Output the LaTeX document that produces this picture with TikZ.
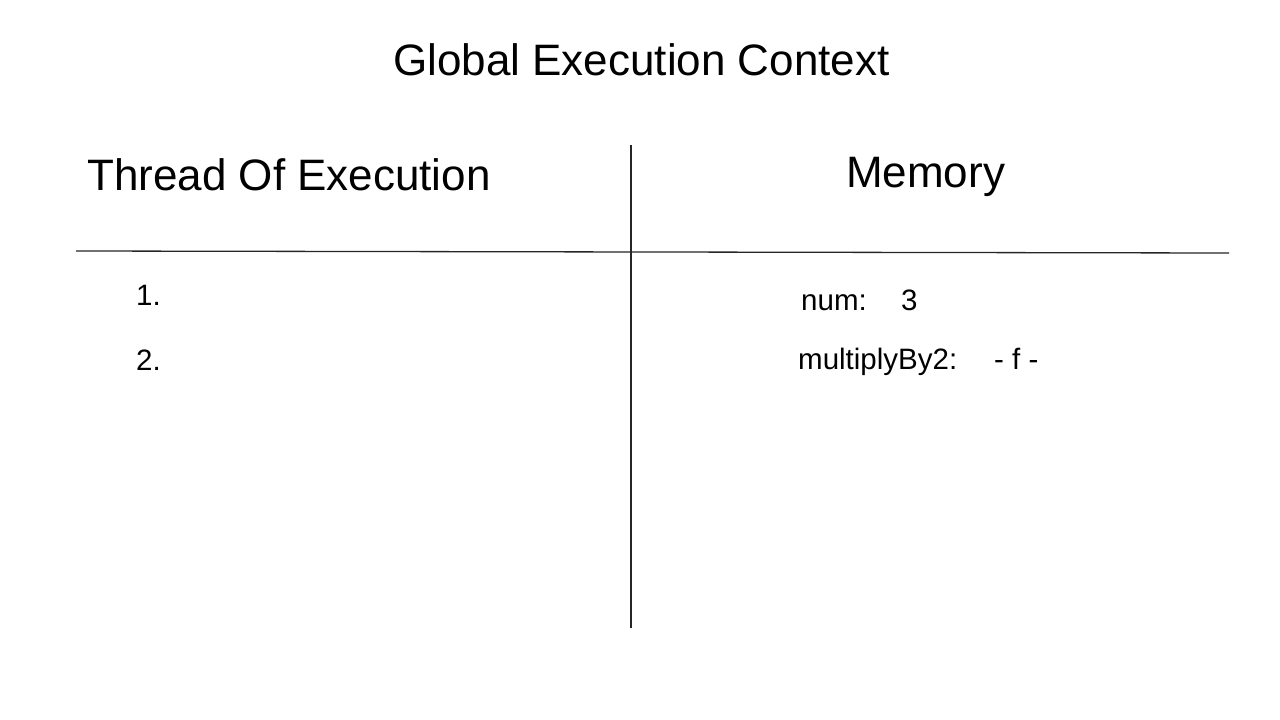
\documentclass[tikz,border=0pt]{standalone}
\usepackage{fontspec}
\setmainfont{Liberation Sans}
\begin{document}
\begin{tikzpicture}[x=1pt,y=-1pt,
  big/.style={anchor=base west,inner sep=0pt,font=\fontsize{44}{50}\selectfont},
  small/.style={anchor=base west,inner sep=0pt,font=\fontsize{29.5}{34}\selectfont},
  rule/.style={line width=1.3pt,black!85}]
\useasboundingbox[fill=white] (0,0) rectangle (1280,720);
\node[big] (title) at (393,75) {Global Execution Context};
\node[big] (thread) at (87,190) {Thread Of Execution};
\node[big] (memory) at (846,187) {Memory};
\node[small] (one) at (136,305) {1.};
\node[small] (two) at (136,370) {2.};
\node[small] (num) at (801,310) {num:};
\node[small] (three) at (901,310) {3};
\node[small] (mult) at (798,369) {multiplyBy2:};
\node[small] (fval) at (994,369) {- f -};
\coordinate (hl) at (76,251);
\coordinate (hr) at (1229,253);
\coordinate (vt) at (631,145);
\coordinate (vb) at (631,628);
\draw[rule] (hl) -- (hr);
\draw[rule] (vt) -- (vb);
\end{tikzpicture}
\end{document}
